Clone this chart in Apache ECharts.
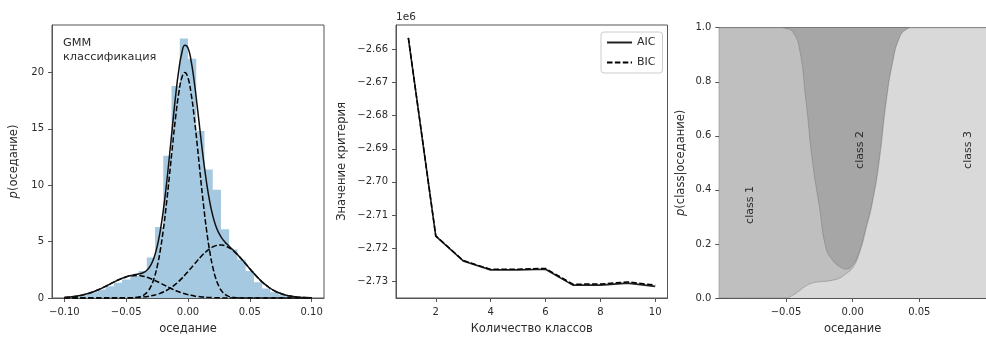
<!DOCTYPE html>
<html><head><meta charset="utf-8">
<script src="https://cdn.jsdelivr.net/npm/echarts@6/dist/echarts.min.js"></script>
<style>html,body{margin:0;padding:0;background:#fff}#c{width:986px;height:340px}</style>
</head><body><div id="c"></div>
<script>
// ---- Panel 1: histogram + GMM components ----
const histRange = [-0.1, 0.1];
const histHeights = [0.05,0.15,0.3,0.5,0.75,1.05,1.35,1.65,1.95,2.4,3.6,6.3,12.6,18.8,23.0,21.2,14.8,11.4,9.6,6.1,4.3,3.4,2.4,1.4,0.85,0.5,0.28,0.13,0.06,0.02];
const gmmX = [-0.1,-0.095,-0.09,-0.085,-0.08,-0.075,-0.07,-0.065,-0.06,-0.055,-0.05,-0.045,
 -0.04,-0.0375,-0.035,-0.0325,-0.03,-0.0275,-0.025,-0.0225,-0.02,-0.0175,-0.015,-0.0125,-0.01,-0.0075,-0.005,-0.0025,0,0.0025,0.005,0.0075,0.01,0.0125,0.015,0.0175,0.02,0.0225,0.025,0.0275,0.03,0.0325,0.035,0.0375,0.04,
 0.045,0.05,0.055,0.06,0.065,0.07,0.075,0.08,0.085,0.09,0.095,0.1];
const gmmTotal = [0.053,0.096,0.165,0.271,0.419,0.616,0.857,1.130,1.411,1.671,1.881,2.024,
 2.124,2.195,2.318,2.541,2.931,3.567,4.539,5.916,7.743,9.996,12.587,15.317,17.943,20.156,21.716,22.401,22.155,21.022,19.213,16.961,14.565,12.259,10.238,8.581,7.315,6.393,5.747,5.290,4.950,4.669,4.407,4.140,3.857,
 3.241,2.593,1.972,1.424,0.977,0.636,0.394,0.231,0.129,0.068,0.034,0.016];
const gmmComp1 = [0.053,0.096,0.165,0.271,0.419,0.616,0.857,1.129,1.409,1.666,1.866,1.981,
 1.991,1.957,1.897,1.814,1.711,1.593,1.463,1.326,1.185,1.045,0.909,0.780,0.661,0.552,0.455,0.370,0.297,0.235,0.183,0.141,0.107,0.080,0.060,0.043,0.031,0.022,0.016,0.011,0.007,0.005,0.003,0.002,0.001,
 0.001,0,0,0,0,0,0,0,0,0,0,0];
const gmmComp2 = [0,0,0,0,0,0,0,0,0,0,0.003,0.017,
 0.081,0.165,0.320,0.590,1.036,1.730,2.756,4.176,6.030,8.286,10.85,13.52,16.05,18.13,19.52,20.0,19.52,18.13,16.05,13.52,10.85,8.286,6.030,4.176,2.756,1.730,1.036,0.590,0.320,0.165,0.081,0.038,0.017,
 0.003,0,0,0,0,0,0,0,0,0,0,0];
const gmmComp3 = [0,0,0,0,0,0,0,0.001,0.002,0.005,0.012,0.026,
 0.052,0.073,0.101,0.137,0.184,0.244,0.320,0.414,0.528,0.665,0.828,1.017,1.232,1.474,1.741,2.031,2.338,2.657,2.980,3.300,3.608,3.893,4.148,4.362,4.528,4.641,4.695,4.689,4.623,4.499,4.323,4.100,3.839,
 3.237,2.593,1.972,1.424,0.977,0.636,0.394,0.231,0.129,0.068,0.034,0.016];
const p1XTicks = [-0.1,-0.05,0,0.05,0.1];
const p1YTicks = [0,5,10,15,20];

// ---- Panel 2: AIC / BIC (units of 1e6) ----
const nClasses = [1,2,3,4,5,6,7,8,9,10];
const aicVals = [-2.6565,-2.7164,-2.7239,-2.7266,-2.7266,-2.7264,-2.7312,-2.7312,-2.7306,-2.7316];
const bicVals = [-2.65646,-2.71632,-2.72378,-2.72644,-2.7264,-2.72616,-2.73092,-2.73088,-2.73024,-2.7312];
const p2YTicks = [-2.73,-2.72,-2.71,-2.70,-2.69,-2.68,-2.67,-2.66];
const p2XTicks = [2,4,6,8,10];

// ---- Panel 3: posterior class probabilities ----
const postX = [-0.1,-0.095,-0.09,-0.085,-0.08,-0.075,-0.07,-0.065,-0.06,-0.055,-0.05,-0.045,-0.04,-0.035,-0.03,-0.025,-0.02,-0.015,-0.01,-0.005,0,0.005,0.01,0.015,0.02,0.025,0.03,0.035,0.04,0.045,0.05,0.055,0.06,0.065,0.07,0.075,0.08,0.085,0.09,0.095,0.1];
const postClass1 = [1,1,1,1,1,1,1,1,1,1,0.997,0.975,0.898,0.685,0.444,0.28,0.123,0.074,0.044,0.017,0.01,0.007,0.004,0.002,0.001,0,0,0,0,0,0,0,0,0,0,0,0,0,0,0,0];
const postClass2 = [0,0,0,0,0,0,0,0,0,0,0.003,0.015,0.075,0.27,0.50,0.66,0.815,0.86,0.883,0.893,0.878,0.828,0.741,0.64,0.489,0.28,0.128,0.038,0.007,0,0,0,0,0,0,0,0,0,0,0,0];
const postClass3 = [0,0,0,0,0,0,0,0,0,0,0,0.01,0.027,0.045,0.056,0.06,0.062,0.066,0.073,0.09,0.112,0.165,0.255,0.358,0.51,0.72,0.872,0.962,0.993,1,1,1,1,1,1,1,1,1,1,1,1];
const p3XTicks = [-0.05,0,0.05];
const p3YTicks = [0,0.2,0.4,0.6,0.8,1.0];
const classLabels = ['class 1','class 2','class 3'];

const FONT = 'DejaVu Sans';
const TXT = '#2b2b2b';
const AX = '#555';
const NAME_FS = 11.5;
const fmt2 = v => (v < 0 ? '\u2212' : '') + Math.abs(v).toFixed(2);

const histEdges = histHeights.map((_, k) => histRange[0] + k * (histRange[1] - histRange[0]) / histHeights.length);
const histData = histHeights.map((h, k) => [histEdges[k], h]);
histData.push([histRange[1], histHeights[histHeights.length - 1]]);
histData.push([histRange[1], 0]);
histData.unshift([histRange[0], 0]);

const zip = (xs, ys) => xs.map((x, i) => [x, ys[i]]);
const cumTop = postX.map((x, i) => [x, postClass1[i] + postClass2[i] + postClass3[i]]);
const cumMid = postX.map((x, i) => [x, postClass3[i] + postClass1[i]]);
const cumLow = zip(postX, postClass3);

function mkAxis(o) {
  const ax = {
    type: 'value', gridIndex: o.grid, min: o.min, max: o.max,
    name: o.name, nameLocation: 'middle', nameGap: o.gap,
    nameTextStyle: { color: TXT, fontFamily: FONT, fontSize: NAME_FS,
      rich: { i: { fontStyle: 'italic', fontFamily: FONT, fontSize: NAME_FS, color: TXT } } },
    axisLine: { show: true, onZero: false, lineStyle: { color: AX, width: 1 } },
    axisTick: { show: true, length: 4, lineStyle: { color: AX }, customValues: o.ticks },
    splitLine: { show: false },
    axisLabel: { color: TXT, fontFamily: FONT, fontSize: 10, margin: o.margin, customValues: o.ticks }
  };
  if (o.fmt) ax.axisLabel.formatter = o.fmt;
  return ax;
}

const chart = echarts.init(document.getElementById('c'));
const gridBase = { show: true, borderColor: AX, borderWidth: 1, backgroundColor: '#fff' };
const option = {
  animation: false,
  grid: [
    Object.assign({ left: 52, top: 25, width: 272, height: 278.3 }, gridBase),
    Object.assign({ left: 396, top: 25, width: 271.5, height: 278.3 }, gridBase),
    Object.assign({ left: 719.3, top: 27.7, width: 270, height: 275.6 }, gridBase)
  ],
  xAxis: [
    mkAxis({ grid: 0, min: -0.11, max: 0.11, name: 'оседание', gap: 25, margin: 9, ticks: p1XTicks, fmt: fmt2 }),
    mkAxis({ grid: 1, min: 0.55, max: 10.45, name: 'Количество классов', gap: 25, margin: 9, ticks: p2XTicks }),
    mkAxis({ grid: 2, min: -0.1, max: 0.1, name: 'оседание', gap: 25, margin: 9, ticks: p3XTicks, fmt: fmt2 })
  ],
  yAxis: [
    mkAxis({ grid: 0, min: 0, max: 24.2, name: '{i|p}(оседание)', gap: 32, margin: 8, ticks: p1YTicks }),
    mkAxis({ grid: 1, min: -2.7351, max: -2.6526, name: 'Значение критерия', gap: 48, margin: 8, ticks: p2YTicks, fmt: fmt2 }),
    mkAxis({ grid: 2, min: 0, max: 1, name: '{i|p}(class|оседание)', gap: 32, margin: 8, ticks: p3YTicks, fmt: v => v.toFixed(1) })
  ],
  legend: {
    left: 601, top: 32, orient: 'vertical', itemWidth: 25, itemHeight: 10, itemGap: 9,
    data: ['AIC', 'BIC'],
    itemStyle: { opacity: 0 },
    backgroundColor: 'rgba(255,255,255,0.85)', borderColor: '#cccccc', borderWidth: 1, borderRadius: 3,
    padding: [5, 7, 5, 5],
    textStyle: { color: TXT, fontFamily: FONT, fontSize: 11 }
  },
  graphic: [
    { type: 'text', z: 100, left: 63, top: 36, style: { text: 'GMM\nклассификация', fill: TXT, font: '11.3px "DejaVu Sans"', lineHeight: 14 } },
    { type: 'text', z: 100, left: 396, top: 12, style: { text: '1e6', fill: TXT, font: '10.5px "DejaVu Sans"' } },
    { type: 'text', z: 100, x: 750, y: 205, rotation: Math.PI / 2, style: { text: classLabels[0], fill: TXT, font: '11px "DejaVu Sans"', align: 'center', verticalAlign: 'middle' } },
    { type: 'text', z: 100, x: 860, y: 150, rotation: Math.PI / 2, style: { text: classLabels[1], fill: TXT, font: '11px "DejaVu Sans"', align: 'center', verticalAlign: 'middle' } },
    { type: 'text', z: 100, x: 968, y: 150, rotation: Math.PI / 2, style: { text: classLabels[2], fill: TXT, font: '11px "DejaVu Sans"', align: 'center', verticalAlign: 'middle' } }
  ],
  series: [
    { type: 'line', xAxisIndex: 0, yAxisIndex: 0, data: histData, step: 'end', symbol: 'none',
      lineStyle: { width: 0, color: '#a5c9e1' }, areaStyle: { color: '#a5c9e1', opacity: 1, origin: 'start' }, z: 1, silent: true },
    { type: 'line', xAxisIndex: 0, yAxisIndex: 0, data: zip(gmmX, gmmComp1), smooth: true, symbol: 'none',
      lineStyle: { color: '#000', width: 1.5, type: [5.5, 2.4] }, z: 3 },
    { type: 'line', xAxisIndex: 0, yAxisIndex: 0, data: zip(gmmX, gmmComp2), smooth: true, symbol: 'none',
      lineStyle: { color: '#000', width: 1.5, type: [5.5, 2.4] }, z: 3 },
    { type: 'line', xAxisIndex: 0, yAxisIndex: 0, data: zip(gmmX, gmmComp3), smooth: true, symbol: 'none',
      lineStyle: { color: '#000', width: 1.5, type: [5.5, 2.4] }, z: 3 },
    { type: 'line', xAxisIndex: 0, yAxisIndex: 0, data: zip(gmmX, gmmTotal), smooth: true, symbol: 'none',
      lineStyle: { color: '#111', width: 1.5 }, z: 4 },

    { name: 'AIC', type: 'line', xAxisIndex: 1, yAxisIndex: 1, data: zip(nClasses, aicVals), symbol: 'none',
      lineStyle: { color: '#222', width: 1.6 }, itemStyle: { color: '#222' }, z: 3 },
    { name: 'BIC', type: 'line', xAxisIndex: 1, yAxisIndex: 1, data: zip(nClasses, bicVals), symbol: 'none',
      lineStyle: { color: '#000', width: 1.5, type: [5.5, 2.4] }, itemStyle: { color: '#000' }, z: 4 },

    { type: 'line', xAxisIndex: 2, yAxisIndex: 2, data: cumTop, smooth: true, symbol: 'none',
      lineStyle: { width: 0 }, areaStyle: { color: '#a6a6a6', opacity: 1, origin: 'start' }, z: 1 },
    { type: 'line', xAxisIndex: 2, yAxisIndex: 2, data: cumMid, smooth: true, symbol: 'none',
      lineStyle: { width: 0.8, color: 'rgba(120,120,120,0.6)' }, areaStyle: { color: '#bfbfbf', opacity: 1, origin: 'start' }, z: 2 },
    { type: 'line', xAxisIndex: 2, yAxisIndex: 2, data: cumLow, smooth: true, symbol: 'none',
      lineStyle: { width: 0.8, color: 'rgba(120,120,120,0.6)' }, areaStyle: { color: '#d9d9d9', opacity: 1, origin: 'start' }, z: 3 }
  ]
};
chart.setOption(option);
</script>
</body></html>
